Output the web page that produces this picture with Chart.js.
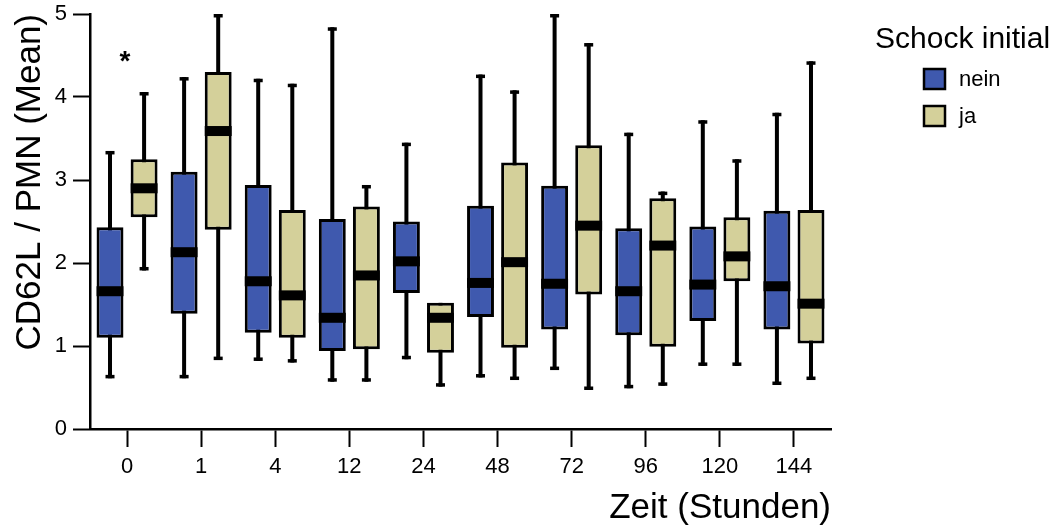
<!DOCTYPE html>
<html>
<head>
<meta charset="utf-8">
<script src="https://cdn.jsdelivr.net/npm/chart.js@4"></script>
<style>
  html, body { margin: 0; padding: 0; background: #fff; }
</style>
</head>
<body>
<canvas id="chart" width="1053" height="529"></canvas>
<script>
// time points (hours) and shock groups
const categories = ['0', '1', '4', '12', '24', '48', '72', '96', '120', '144'];
const groups = ['nein', 'ja'];

// five-number summaries, Schock initial = nein
const neinMin    = [0.61, 0.61, 0.82, 0.57, 0.84, 0.62, 0.71, 0.49, 0.76, 0.53];
const neinQ1     = [1.10, 1.39, 1.16, 0.94, 1.64, 1.35, 1.20, 1.13, 1.30, 1.20];
const neinMedian = [1.66, 2.13, 1.78, 1.34, 2.02, 1.76, 1.75, 1.66, 1.74, 1.72];
const neinQ3     = [2.43, 3.10, 2.94, 2.53, 2.50, 2.69, 2.93, 2.42, 2.44, 2.63];
const neinMax    = [3.35, 4.24, 4.22, 4.84, 3.45, 4.27, 5.00, 3.57, 3.72, 3.81];

// five-number summaries, Schock initial = ja
const jaMin    = [1.91, 0.83, 0.80, 0.57, 0.51, 0.59, 0.47, 0.52, 0.76, 0.59];
const jaQ1     = [2.55, 2.40, 1.10, 0.96, 0.92, 0.98, 1.62, 0.99, 1.78, 1.03];
const jaMedian = [2.90, 3.59, 1.61, 1.85, 1.34, 2.01, 2.45, 2.21, 2.08, 1.51];
const jaQ3     = [3.25, 4.30, 2.64, 2.68, 1.52, 3.21, 3.42, 2.78, 2.55, 2.64];
const jaMax    = [4.06, 5.00, 4.16, 2.94, 1.52, 4.08, 4.65, 2.86, 3.25, 4.43];

// significance marks per time point
const significance = ['*', '', '', '', '', '', '', '', '', ''];

const yTicks = [0, 1, 2, 3, 4, 5];

const stats = [
  { min: neinMin, q1: neinQ1, median: neinMedian, q3: neinQ3, max: neinMax },
  { min: jaMin, q1: jaQ1, median: jaMedian, q3: jaQ3, max: jaMax }
];
const fills = ['#3f59ae', '#d4d09a'];

Chart.defaults.font.family = '"Liberation Sans", Arial, Helvetica, sans-serif';
Chart.defaults.color = '#000';

// whiskers behind the boxes, median bands on top of them
const boxParts = {
  id: 'boxParts',
  beforeDatasetsDraw(chart) {
    const ctx = chart.ctx;
    const y = chart.scales.y;
    stats.forEach((s, k) => {
      chart.getDatasetMeta(k).data.forEach((bar, i) => {
        const x = bar.x;
        const top = y.getPixelForValue(s.max[i]);
        const bot = y.getPixelForValue(s.min[i]);
        ctx.save();
        ctx.strokeStyle = '#000';
        ctx.lineWidth = 4;
        ctx.beginPath();
        ctx.moveTo(x, top);
        ctx.lineTo(x, bot);
        ctx.stroke();
        ctx.fillStyle = '#000';
        if (s.max[i] > s.q3[i]) ctx.fillRect(x - 4.5, top, 9, 3.5);
        ctx.fillRect(x - 4.5, bot - 3.5, 9, 3.5);
        ctx.restore();
      });
    });
  },
  afterDatasetsDraw(chart) {
    const ctx = chart.ctx;
    const y = chart.scales.y;
    stats.forEach((s, k) => {
      chart.getDatasetMeta(k).data.forEach((bar, i) => {
        const ym = y.getPixelForValue(s.median[i]);
        ctx.fillStyle = '#000';
        ctx.fillRect(bar.x - bar.width / 2, ym - 5, bar.width, 10);
      });
    });
  },
  afterDraw(chart) {
    const ctx = chart.ctx;
    const x = chart.scales.x;
    const y = chart.scales.y;
    ctx.save();

    // significance stars above each time point
    ctx.font = 'bold 28px "Liberation Sans", Arial, sans-serif';
    ctx.textAlign = 'center';
    ctx.textBaseline = 'middle';
    ctx.fillStyle = '#000';
    significance.forEach((mark, i) => {
      if (!mark) return;
      const top = Math.max(neinMax[i], jaMax[i]);
      ctx.fillText(mark, x.getPixelForValue(i) - 2, y.getPixelForValue(top) - 30);
    });

    // legend
    ctx.textAlign = 'left';
    ctx.textBaseline = 'alphabetic';
    ctx.font = '30px "Liberation Sans", Arial, sans-serif';
    ctx.fillText('Schock initial', 875, 48);
    ctx.font = '22px "Liberation Sans", Arial, sans-serif';
    ctx.textBaseline = 'middle';
    chart.data.datasets.forEach((ds, k) => {
      const cy = 79 + k * 37;
      ctx.fillStyle = ds.backgroundColor;
      ctx.fillRect(924, cy - 10, 21, 20);
      ctx.strokeStyle = '#000';
      ctx.lineWidth = 2.5;
      ctx.strokeRect(924, cy - 10, 21, 20);
      ctx.fillStyle = '#000';
      ctx.fillText(ds.label, 959, cy + 1);
    });
    ctx.restore();
  }
};

new Chart(document.getElementById('chart'), {
  type: 'bar',
  data: {
    labels: categories,
    datasets: groups.map((g, k) => ({
      label: g,
      data: categories.map((c, i) => [stats[k].q1[i], stats[k].q3[i]]),
      backgroundColor: fills[k],
      borderColor: '#000',
      borderWidth: 3,
      borderSkipped: false,
      categoryPercentage: 0.92,
      barPercentage: 0.79
    }))
  },
  options: {
    responsive: false,
    animation: false,
    layout: { padding: { top: 0, right: 222, left: 0, bottom: 0 } },
    plugins: {
      legend: { display: false },
      tooltip: { enabled: false }
    },
    scales: {
      x: {
        offset: true,
        grid: {
          offset: false,
          drawOnChartArea: false,
          tickLength: 18,
          tickWidth: 2,
          tickColor: '#000'
        },
        border: { color: '#000', width: 2.5 },
        ticks: { font: { size: 22 }, padding: 7 },
        title: {
          display: true,
          text: 'Zeit (Stunden)',
          align: 'end',
          font: { size: 35 },
          padding: { top: 0, bottom: 0 }
        },
        afterFit(scale) { scale.height = 100; }
      },
      y: {
        min: 0,
        max: 5,
        afterBuildTicks(scale) { scale.ticks = yTicks.map(v => ({ value: v })); },
        grid: {
          drawOnChartArea: false,
          tickLength: 17,
          tickWidth: 2,
          tickColor: '#000'
        },
        border: { color: '#000', width: 2.5 },
        ticks: { font: { size: 22 }, padding: 6 },
        title: {
          display: true,
          text: 'CD62L / PMN (Mean)',
          align: 'end',
          font: { size: 35 },
          padding: { top: 9, bottom: 0 }
        },
        afterFit(scale) {
          scale.width = 90;
          scale.paddingTop = 14;
          scale.paddingBottom = 0;
        }
      }
    }
  },
  plugins: [boxParts]
});
</script>
</body>
</html>
